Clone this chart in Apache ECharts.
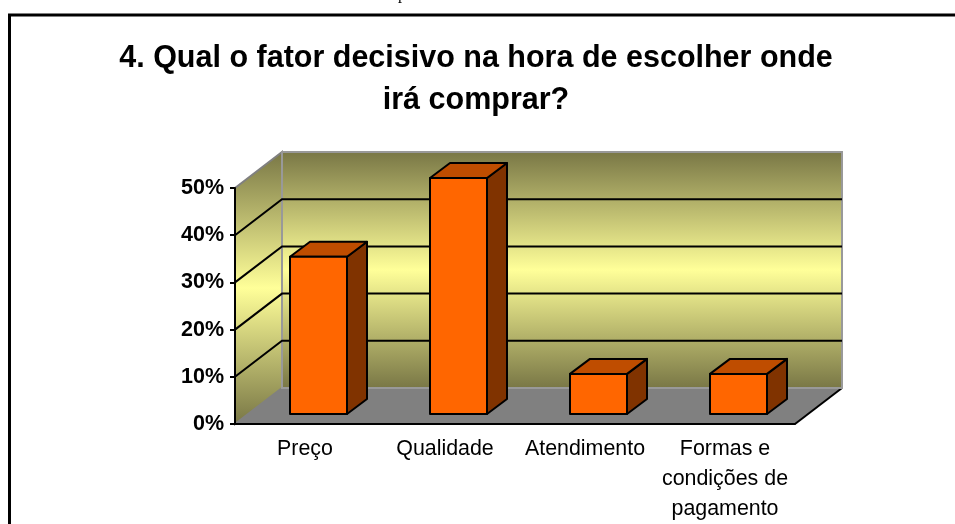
<!DOCTYPE html>
<html>
<head>
<meta charset="utf-8">
<script src="https://cdn.jsdelivr.net/npm/echarts@6/dist/echarts.min.js"></script>
<style>
  html, body { margin: 0; padding: 0; background: #fff; }
  #chart { width: 955px; height: 524px; }
</style>
</head>
<body>
<div id="chart"></div>
<script>
var categories = ['Preço', 'Qualidade', 'Atendimento', 'Formas e\ncondições de\npagamento'];
var percentValues = [33.3, 50, 8.5, 8.5];
var gridValues = [10, 20, 30, 40];
var titleText = '4. Qual o fator decisivo na hora de escolher onde\nirá comprar?';

// fake 3d: how far the back wall sits from the front plane
var DEPTH_X = 47, DEPTH_Y = 36;
var BAR_W = 57, BAR_DX = 20, BAR_DY = 15;
var BAR_SHIFT_X = 13.5, BAR_SHIFT_Y = 10;
var FONT = '"Liberation Sans", Arial, sans-serif';

function wallGradient() {
  return new echarts.graphic.LinearGradient(0, 0, 0, 1, [
    { offset: 0, color: '#787645' },
    { offset: 0.5, color: '#ffff99' },
    { offset: 1, color: '#787645' }
  ]);
}

function renderWalls(params) {
  var g = params.coordSys;
  var left = g.x, right = g.x + g.width, top = g.y, bottom = g.y + g.height;
  return {
    type: 'group',
    children: [
      { // floor
        type: 'polygon',
        shape: { points: [[left, bottom], [left + DEPTH_X, bottom - DEPTH_Y], [right + DEPTH_X, bottom - DEPTH_Y], [right, bottom]] },
        style: { fill: '#808080', stroke: null }
      },
      { // floor right edge
        type: 'line',
        shape: { x1: right, y1: bottom, x2: right + DEPTH_X, y2: bottom - DEPTH_Y },
        style: { stroke: '#000', lineWidth: 2 }
      },
      { // side wall
        type: 'polygon',
        shape: { points: [[left, top], [left + DEPTH_X, top - DEPTH_Y], [left + DEPTH_X, bottom - DEPTH_Y], [left, bottom]] },
        style: { fill: wallGradient(), stroke: '#808080', lineWidth: 2 }
      },
      { // back wall
        type: 'rect',
        shape: { x: left + DEPTH_X, y: top - DEPTH_Y, width: g.width, height: g.height },
        style: { fill: wallGradient(), stroke: '#999999', lineWidth: 2 }
      }
    ]
  };
}

function renderGridLine(params, api) {
  var g = params.coordSys;
  var y = api.coord([0, api.value(0)])[1];
  return {
    type: 'polyline',
    shape: { points: [[g.x, y], [g.x + DEPTH_X, y - DEPTH_Y], [g.x + g.width + DEPTH_X, y - DEPTH_Y]] },
    style: { fill: null, stroke: '#000', lineWidth: 2 }
  };
}

function renderBar(params, api) {
  var base = api.coord([api.value(0), 0]);
  var peak = api.coord([api.value(0), api.value(1)]);
  var x0 = base[0] + BAR_SHIFT_X - BAR_W / 2, x1 = x0 + BAR_W;
  var y0 = base[1] - BAR_SHIFT_Y, y1 = peak[1] - BAR_SHIFT_Y;
  var edge = { stroke: '#000', lineWidth: 2, lineJoin: 'round' };
  return {
    type: 'group',
    children: [
      {
        type: 'polygon',
        shape: { points: [[x1, y1], [x1 + BAR_DX, y1 - BAR_DY], [x1 + BAR_DX, y0 - BAR_DY], [x1, y0]] },
        style: Object.assign({ fill: '#803300' }, edge)
      },
      {
        type: 'polygon',
        shape: { points: [[x0, y1], [x0 + BAR_DX, y1 - BAR_DY], [x1 + BAR_DX, y1 - BAR_DY], [x1, y1]] },
        style: Object.assign({ fill: '#bf4d00' }, edge)
      },
      {
        type: 'rect',
        shape: { x: x0, y: y1, width: BAR_W, height: y0 - y1 },
        style: Object.assign({ fill: '#ff6600' }, edge)
      }
    ]
  };
}

var chart = echarts.init(document.getElementById('chart'), null, { renderer: 'canvas' });
chart.setOption({
  animation: false,
  backgroundColor: '#fff',
  title: {
    text: titleText,
    left: 471,
    top: 33,
    textAlign: 'center',
    textStyle: { fontFamily: FONT, fontSize: 30.5, fontWeight: 'bold', color: '#000', lineHeight: 42 }
  },
  grid: { left: 235, right: 160, top: 188, bottom: 99 },
  xAxis: {
    type: 'category',
    data: categories,
    z: 5,
    axisLine: { lineStyle: { color: '#000', width: 2 } },
    axisTick: { length: 5, lineStyle: { color: '#000', width: 2 } },
    axisLabel: { fontFamily: FONT, fontSize: 21.4, color: '#000', lineHeight: 30, margin: 10, interval: 0 }
  },
  yAxis: {
    type: 'value',
    min: 0,
    max: 50,
    interval: 10,
    z: 5,
    axisLine: { show: true, lineStyle: { color: '#000', width: 2 } },
    axisTick: { show: true, length: 5, lineStyle: { color: '#000', width: 2 } },
    axisLabel: { fontFamily: FONT, fontSize: 21.5, fontWeight: 'bold', color: '#000', margin: 11, formatter: '{value}%' },
    splitLine: { show: false }
  },
  graphic: [
    { // the frame only shows at the top and left, the shot crops the rest
      type: 'polyline',
      shape: { points: [[9.5, 530], [9.5, 15], [960, 15]] },
      style: { fill: null, stroke: '#000', lineWidth: 3 },
      z: 10
    },
    { // foot of a letter from the page text above the chart
      type: 'text',
      x: 402,
      y: -13,
      style: { text: 'p', fontFamily: '"Liberation Serif", serif', fontSize: 16, fill: '#000', align: 'center', verticalAlign: 'top' },
      z: 10
    }
  ],
  series: [
    { type: 'custom', data: [0], renderItem: renderWalls, z: 1, silent: true, clip: false },
    { type: 'custom', data: gridValues.map(function (v) { return [v]; }), encode: { y: 0 }, renderItem: renderGridLine, z: 2, silent: true, clip: false },
    {
      type: 'custom',
      data: percentValues.map(function (v, i) { return [i, v]; }),
      encode: { x: 0, y: 1 },
      renderItem: renderBar,
      z: 3,
      clip: false
    }
  ]
});
</script>
</body>
</html>
